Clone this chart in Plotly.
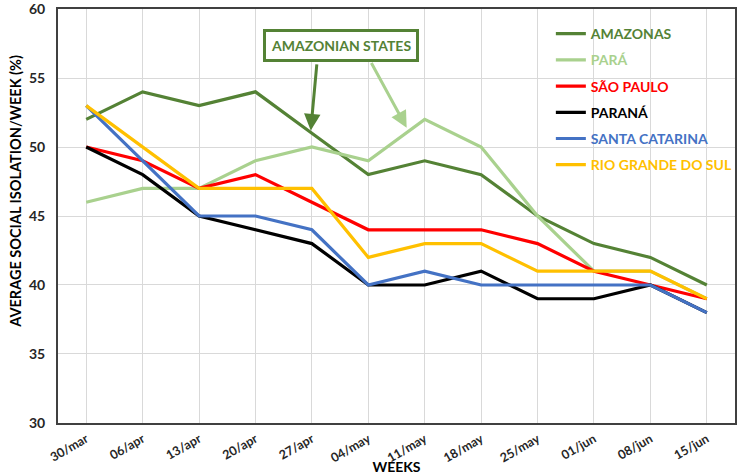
import plotly.graph_objects as go

weeks = ["30/mar", "06/apr", "13/apr", "20/apr", "27/apr", "04/may",
         "11/may", "18/may", "25/may", "01/jun", "08/jun", "15/jun"]

amazonas = [52, 54, 53, 54, 51, 48, 49, 48, 45, 43, 42, 40]
para = [46, 47, 47, 49, 50, 49, 52, 50, 45, 41, 41, 39]
sao_paulo = [50, 49, 47, 48, 46, 44, 44, 44, 43, 41, 40, 39]
parana = [50, 48, 45, 44, 43, 40, 40, 41, 39, 39, 40, 38]
santa_catarina = [53, 49, 45, 45, 44, 40, 41, 40, 40, 40, 40, 38]
rio_grande_do_sul = [53, 50, 47, 47, 47, 42, 43, 43, 41, 41, 41, 39]

series = [
    ("AMAZONAS", amazonas, "#548235"),
    ("PARÁ", para, "#A9D18E"),
    ("SÃO PAULO", sao_paulo, "#FF0000"),
    ("PARANÁ", parana, "#000000"),
    ("SANTA CATARINA", santa_catarina, "#4472C4"),
    ("RIO GRANDE DO SUL", rio_grande_do_sul, "#FFC000"),
]

FONT = "Lato"
fig = go.Figure()
for i, (name, vals, col) in enumerate(series):
    fig.add_trace(go.Scatter(
        x=weeks, y=vals, mode="lines",
        name=f"<span style='color:{col}'><b>{name}</b></span>",
        line=dict(color=col, width=3.2),
        legendgroup=f"g{i}",
    ))

DARK = "#548235"
LIGHT = "#A9D18E"
# label box
fig.add_annotation(x=4.51, y=57.36, xref="x", yref="y",
                   text="<b>AMAZONIAN STATES</b>", showarrow=False,
                   font=dict(family=FONT, size=14, color=DARK),
                   bgcolor="white", bordercolor=DARK, borderwidth=3,
                   borderpad=5)
# arrows
fig.add_annotation(x=3.98, y=51.2, xref="x", yref="y",
                   ax=4.09, ay=56.1, axref="x", ayref="y",
                   text="", showarrow=True, arrowhead=2, arrowsize=1.1,
                   arrowwidth=3, arrowcolor=DARK)
fig.add_annotation(x=5.68, y=51.4, xref="x", yref="y",
                   ax=5.04, ay=56.2, axref="x", ayref="y",
                   text="", showarrow=True, arrowhead=2, arrowsize=1.1,
                   arrowwidth=3, arrowcolor=LIGHT)
# y-axis title (placed as in the reference, slightly above centre)
fig.add_annotation(x=-0.064, y=0.56, xref="paper", yref="paper",
                   xanchor="center", yanchor="middle",
                   text="<b>AVERAGE SOCIAL ISOLATION/WEEK (%)</b>",
                   textangle=-90, showarrow=False,
                   font=dict(family=FONT, size=14.5, color="#000"))

fig.update_layout(
    width=741, height=475,
    margin=dict(l=58, r=3, t=9, b=52),
    paper_bgcolor="white", plot_bgcolor="white",
    font=dict(family=FONT, color="#262626"),
    showlegend=True,
    legend=dict(x=0.728, y=0.978, xanchor="left", yanchor="top",
                bgcolor="rgba(0,0,0,0)", font=dict(family=FONT, size=14),
                itemwidth=30, tracegroupgap=5),
    xaxis=dict(
        type="category", range=[-0.5, 11.5], automargin=False,
        tickangle=-30,
        tickfont=dict(family=FONT, size=12.5, color="#262626", weight="bold"),
        showgrid=True, gridcolor="#D9D9D9", gridwidth=1,
        showline=True, linecolor="#404040", linewidth=2, mirror=True,
        ticks="", zeroline=False, ticklabelstandoff=2,
        ticklabeloverflow="allow",
        title=dict(text="<b>WEEKS</b>", font=dict(family=FONT, size=14, color="#000"),
                   standoff=2),
    ),
    yaxis=dict(
        range=[29.995, 60.005], dtick=5, tick0=30, automargin=False,
        tickfont=dict(family=FONT, size=14, color="#262626", weight="bold"),
        showgrid=True, gridcolor="#D9D9D9", gridwidth=1,
        showline=True, linecolor="#404040", linewidth=2, mirror=True,
        ticks="", zeroline=False, ticklabelstandoff=8,
        ticklabeloverflow="allow",
    ),
)

fig.write_html("out.html", config={"displayModeBar": False},
               post_script="document.body.style.margin='0';document.body.style.overflow='hidden';")
